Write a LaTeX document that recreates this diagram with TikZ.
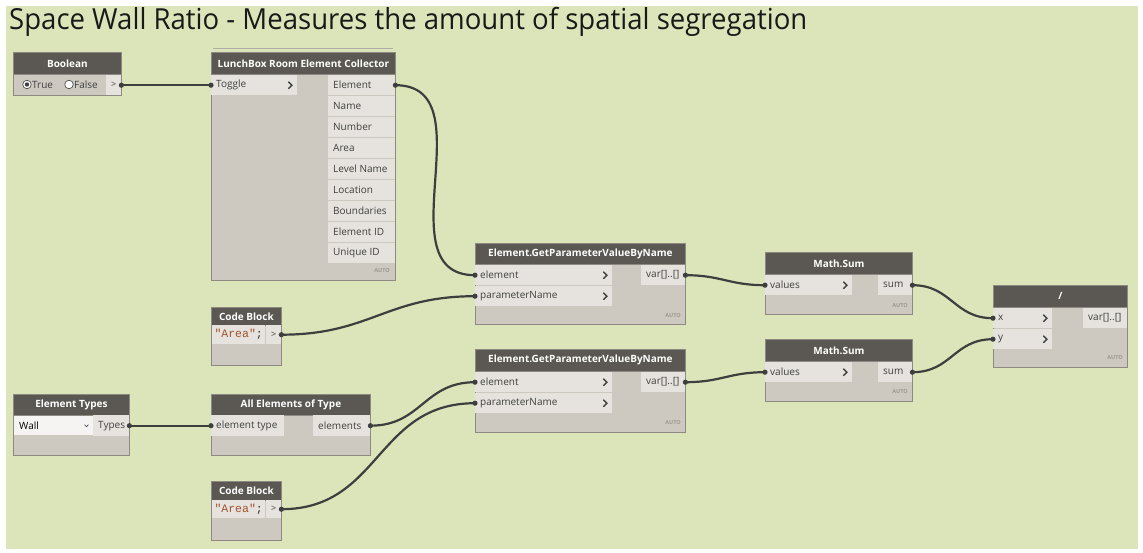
\documentclass[tikz,border=0pt]{standalone}
\usepackage{fontspec}
\setmainfont{Open Sans}
\newfontfamily\codefont{Liberation Mono}
\usetikzlibrary{calc}
\definecolor{bg}{HTML}{DCE5BA}
\definecolor{hdr}{HTML}{5B5853}
\definecolor{nbody}{HTML}{CDC9C1}
\definecolor{pfill}{HTML}{E6E3DE}
\definecolor{nborder}{HTML}{8E8A83}
\definecolor{ptext}{HTML}{404040}
\definecolor{wirec}{HTML}{3E3E3E}
\definecolor{strc}{HTML}{A0522D}
\definecolor{autoc}{HTML}{9E9890}
\newcommand\portfont{\fontsize{10}{12}\selectfont}
\tikzset{
  nbox/.style args={#1/#2}{draw=nborder, fill=nbody, line width=0.8pt, anchor=north west, inner sep=0pt, minimum width=#1, minimum height=#2},
  hbox/.style args={#1/#2}{draw=nborder, fill=hdr, line width=0.8pt, anchor=north west, inner sep=0pt, minimum width=#1, minimum height=#2, text=white, font=\fontsize{10}{12}\selectfont\bfseries},
  port/.style={fill=pfill, anchor=north west, inner ysep=0pt, inner xsep=5pt, minimum height=20pt, text=ptext, font=\portfont,
    execute at begin node={\hbox to \dimexpr#1pt-10pt\relax\bgroup}, execute at end node={\hfil\egroup}},
  cport/.style={fill=pfill, anchor=north west, inner sep=0pt, minimum width=#1, minimum height=20pt, text=ptext, font=\fontsize{9}{10}\selectfont},
  autolbl/.style={anchor=east, inner sep=0pt, text=autoc, font=\fontsize{5.5}{6}\selectfont\bfseries},
  chevron/.style={draw=ptext, line width=1.4pt},
  wirestyle/.style={draw=wirec, line width=2.2pt},
  dot/.style={fill=wirec},
  radio/.style={circle, draw=ptext, fill=white, line width=0.6pt, inner sep=0pt, minimum size=8.5pt},
}
\newcommand\chev[1]{\draw[chevron] ([xshift=-9pt,yshift=3.5pt]#1.east) -- ++(3.5,3.5) -- ++(-3.5,3.5);}
\newcommand\wire[2]{%
  \draw[wirestyle] let \p1=(#1.east), \p2=(#2.west), \n1={0.45*veclen(\x2-\x1,\y2-\y1)} in
    (\p1) .. controls (\x1+\n1,\y1) and (\x2-\n1,\y2) .. (\p2);
  \fill[dot] (#1.east) circle (2.6); \fill[dot] (#2.west) circle (2.6);}
\begin{document}
\begin{tikzpicture}[x=1pt,y=-1pt]
\useasboundingbox (0,0) rectangle (1143,553);
\fill[white] (0,0) rectangle (1143,553);
\fill[bg] (6,6) rectangle (1138,549);
\node[anchor=base west, inner sep=0pt, text=black!90] (title) at (9,30)
  {\scalebox{0.95}[1]{\fontsize{29}{32}\selectfont Space Wall Ratio - Measures the amount of spatial segregation}};

% Boolean
\node[nbox=108/43] (b) at (13,52) {};
\node[hbox=108/22] (bh) at (13,52) {Boolean};
\node[radio] (rt) at (27,84.5) {};
\fill[ptext] (rt) circle (2.2);
\node[anchor=west, inner sep=0pt, text=ptext, font=\portfont] (rtl) at (32,84.5) {True};
\node[radio] (rf) at (69,84.5) {};
\node[anchor=west, inner sep=0pt, text=ptext, font=\portfont] (rfl) at (74,84.5) {False};
\node[cport=15] (bout) at (106,75) {>};

% LunchBox
\draw[nborder!70, line width=0.8pt] (213,48.5) -- (393,48.5);
\node[nbox=184/228] (lb) at (211,52) {};
\node[hbox=184/22] (lbh) at (211,52) {LunchBox Room Element Collector};
\node[port=86] (lbt) at (211,75) {Toggle};
\chev{lbt}
\node[port=67] (lb1) at (328,75) {Element};
\node[port=67] (lb2) at (328,96) {Name};
\node[port=67] (lb3) at (328,117) {Number};
\node[port=67] (lb4) at (328,138) {Area};
\node[port=67] (lb5) at (328,159) {Level Name};
\node[port=67] (lb6) at (328,180) {Location};
\node[port=67] (lb7) at (328,201) {Boundaries};
\node[port=67] (lb8) at (328,222) {Element ID};
\node[port=67] (lb9) at (328,243) {Unique ID};
\node[autolbl] (lba) at (390,271) {AUTO};

% GetParameterValueByName 1
\node[nbox=210/81] (g1) at (475,243) {};
\node[hbox=210/21] (g1h) at (475,243) {Element.GetParameterValueByName};
\node[port=137] (g1e) at (475,265) {element};
\chev{g1e}
\node[port=137] (g1p) at (475,286) {parameterName};
\chev{g1p}
\node[port=44] (g1o) at (641,265) {var[]..[]};
\node[autolbl] (g1a) at (681,316) {AUTO};

% Math.Sum 1
\node[nbox=147/62] (s1) at (765,252) {};
\node[hbox=147/22] (s1h) at (765,252) {Math.Sum};
\node[port=87] (s1v) at (765,275) {values};
\chev{s1v}
\node[port=34] (s1o) at (878,275) {sum};
\node[autolbl] (s1a) at (908,306) {AUTO};

% Division
\node[nbox=134/82] (dv) at (993,285) {};
\node[hbox=134/22] (dvh) at (993,285) {/};
\node[port=59] (dvx) at (993,308) {x};
\chev{dvx}
\node[port=59] (dvy) at (993,329) {y};
\chev{dvy}
\node[port=44] (dvo) at (1083,308) {var[]..[]};
\node[autolbl] (dva) at (1123,358) {AUTO};

% Code Block 1
\node[nbox=70/58] (cb1) at (211,307) {};
\node[hbox=70/18] (cb1h) at (211,307) {Code Block};
\node[cport=53, minimum height=19pt, font=\codefont\fontsize{11.5}{12}\selectfont] (cb1c) at (212,325) {\textcolor{strc}{"Area"}\textcolor{black!80}{;}};
\node[cport=15, minimum height=19pt] (cb1o) at (266,325) {>};

% GetParameterValueByName 2
\node[nbox=210/83] (g2) at (475,349) {};
\node[hbox=210/22] (g2h) at (475,349) {Element.GetParameterValueByName};
\node[port=137] (g2e) at (475,372) {element};
\chev{g2e}
\node[port=137] (g2p) at (475,393) {parameterName};
\chev{g2p}
\node[port=44] (g2o) at (641,372) {var[]..[]};
\node[autolbl] (g2a) at (681,423) {AUTO};

% Math.Sum 2
\node[nbox=147/62] (s2) at (765,339) {};
\node[hbox=147/22] (s2h) at (765,339) {Math.Sum};
\node[port=87] (s2v) at (765,362) {values};
\chev{s2v}
\node[port=34] (s2o) at (878,362) {sum};
\node[autolbl] (s2a) at (908,392) {AUTO};

% Element Types
\node[nbox=116/61] (et) at (13,394) {};
\node[hbox=116/21] (eth) at (13,394) {Element Types};
\node[port=79, fill=white!60!pfill, minimum height=19pt, text=black] (etd) at (14,416) {Wall};
\draw[ptext, line width=0.6pt] ([xshift=-9pt,yshift=1pt]etd.east) -- ++(2,2) -- ++(2,-2);
\node[port=36, minimum height=21pt] (eto) at (93,415) {Types};

% All Elements of Type
\node[nbox=159/61] (ae) at (211,394) {};
\node[hbox=159/21] (aeh) at (211,394) {All Elements of Type};
\node[port=73, minimum height=21pt] (aei) at (211,415) {element type};
\node[port=57, minimum height=21pt] (aeo) at (313,415) {elements};

% Code Block 2
\node[nbox=70/59] (cb2) at (211,481) {};
\node[hbox=70/19] (cb2h) at (211,481) {Code Block};
\node[cport=53, minimum height=18pt, font=\codefont\fontsize{11.5}{12}\selectfont] (cb2c) at (212,500) {\textcolor{strc}{"Area"}\textcolor{black!80}{;}};
\node[cport=15, minimum height=18pt] (cb2o) at (266,500) {>};

% Wires
\wire{bout}{lbt}
\wire{lb1}{g1e}
\wire{cb1o}{g1p}
\wire{g1o}{s1v}
\wire{s1o}{dvx}
\wire{eto}{aei}
\wire{aeo}{g2e}
\wire{cb2o}{g2p}
\wire{g2o}{s2v}
\wire{s2o}{dvy}
\end{tikzpicture}
\end{document}
